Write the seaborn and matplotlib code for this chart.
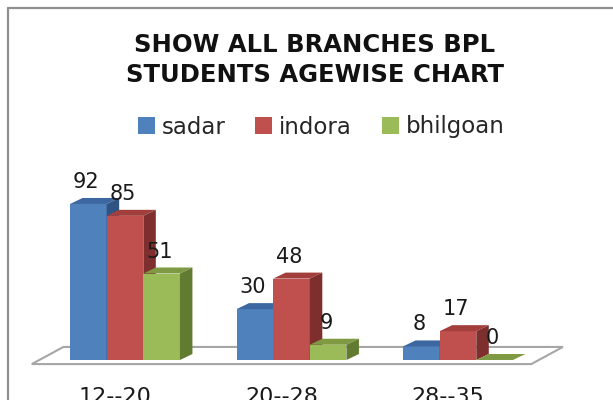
import numpy as np
import pandas as pd
import seaborn as sns
import matplotlib.pyplot as plt
from matplotlib.patches import Polygon
from matplotlib.lines import Line2D

# --- data ---
age_groups = ["12--20", "20--28", "28--35"]
branches = ["sadar", "indora", "bhilgoan"]
sadar = [92, 30, 8]
indora = [85, 48, 17]
bhilgoan = [51, 9, 0]

front_colors = ["#4F81BD", "#C0504D", "#9BBB59"]
top_colors = ["#3D67A0", "#A23F3C", "#7E9B43"]
side_colors = ["#2F5383", "#7E2E2C", "#617C31"]

df = pd.DataFrame({
    "age": age_groups * 3,
    "branch": np.repeat(branches, len(age_groups)),
    "students": sadar + indora + bhilgoan,
})

sns.set_style("white")
plt.rcParams["font.family"] = ["DejaVu Sans"]

fig = plt.figure(figsize=(6.13, 4.0), dpi=100)
ax = fig.add_axes([0, 0, 1, 1])

sns.barplot(data=df, x="age", y="students", hue="branch", palette=front_colors,
            width=0.66, gap=0, saturation=1, linewidth=0, errorbar=None, ax=ax)

ax.set_xlim(-0.7508, 2.931)
ax.set_ylim(-23.58, 212.26)
ax.axis("off")

# fake 3d depth
dx, dv = 0.075, 3.54
for k, cont in enumerate(ax.containers):
    for p in cont.patches:
        x0, w, h = p.get_x(), p.get_width(), p.get_height()
        p.set_zorder(3 + k)
        top = Polygon([(x0, h), (x0 + w, h), (x0 + w + dx, h + dv), (x0 + dx, h + dv)],
                      closed=True, facecolor=top_colors[k], edgecolor="none", zorder=3.5 + k)
        side = Polygon([(x0 + w, 0), (x0 + w + dx, dv), (x0 + w + dx, h + dv), (x0 + w, h)],
                       closed=True, facecolor=side_colors[k], edgecolor="none", zorder=3.5 + k)
        ax.add_patch(top)
        ax.add_patch(side)
        ax.text(x0 + w / 2 - 0.012, h + 9.4, f"{h:.0f}", ha="center", va="baseline",
                fontsize=15, color="#1a1a1a", zorder=10)

# floor
fl, fr, fdx = -0.56, 2.44, 0.19
floor = Polygon([(fl, -2.4), (fl + fdx, 7.7), (fr + fdx, 7.7), (fr, -2.4)], closed=True,
                facecolor="white", edgecolor="#A6A6A6", linewidth=1.5, zorder=1)
ax.add_patch(floor)

# category labels
for i, lab in enumerate(age_groups):
    ax.text(i - 0.06, -15.9, lab, ha="center", va="top", fontsize=16, color="#1a1a1a")

# legend
sns.move_legend(ax, "center", bbox_to_anchor=(0.524, 0.6825), bbox_transform=fig.transFigure,
                ncol=3, frameon=False, title=None, fontsize=16.5, handlelength=0.75,
                handleheight=0.75, handletextpad=0.3, columnspacing=1.3)

# title
fig.text(315 / 613, 1 - 52 / 400, "SHOW ALL BRANCHES BPL", ha="center", va="baseline",
         fontsize=17.5, fontweight="bold", color="#111111")
fig.text(315 / 613, 1 - 82 / 400, "STUDENTS AGEWISE CHART", ha="center", va="baseline",
         fontsize=17.5, fontweight="bold", color="#111111")

# chart frame
fig.add_artist(Line2D([8 / 613, 8 / 613], [0, 1 - 8 / 400], transform=fig.transFigure,
                      color="#8F8F8F", lw=1.6))
fig.add_artist(Line2D([8 / 613, 1], [1 - 8 / 400, 1 - 8 / 400], transform=fig.transFigure,
                      color="#8F8F8F", lw=1.6))

fig.savefig("out.png", dpi=100)
